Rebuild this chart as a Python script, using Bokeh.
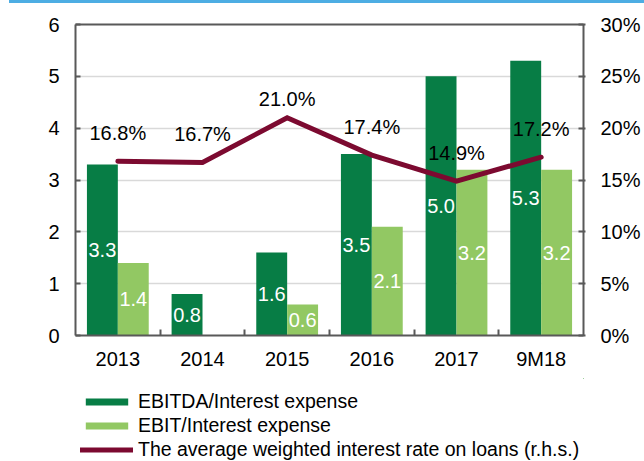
import numpy as np
from bokeh.plotting import figure
from bokeh.layouts import column
from bokeh.models import (ColumnDataSource, Range1d, LinearAxis, FixedTicker,
                          Legend, LegendItem, PrintfTickFormatter, Div)
from bokeh.transform import dodge
from bokeh.core.properties import value
from bokeh.embed import file_html
from bokeh.resources import INLINE

categories = ["2013", "2014", "2015", "2016", "2017", "9M18"]
ebitda_cov = [3.3, 0.8, 1.6, 3.5, 5.0, 5.3]
ebit_cov = [1.4, -0.05, 0.6, 2.1, 3.2, 3.2]
rate_pct = [16.8, 16.7, 21.0, 17.4, 14.9, 17.2]
rate_label_dy = [-28, -28, -19, -28, -28, -28]
left_ticks = [0, 1, 2, 3, 4, 5, 6]
right_ticks = [0, 5, 10, 15, 20, 25, 30]
legend_labels = ["EBITDA/Interest expense", "EBIT/Interest expense",
                 "The average weighted interest rate on loans (r.h.s.)"]

DARK = "#077D45"
LIGHT = "#92C863"
MAROON = "#7C0A30"
FRAME = "#595959"
FONT = "Liberation Sans"
FS = "20px"

n = len(categories)
xc = np.arange(n) + 0.5
BW = 0.365

src = ColumnDataSource(dict(
    x=xc, cat=categories, ebitda=ebitda_cov, ebit=ebit_cov,
    ebitda_mid=[v / 2 for v in ebitda_cov],
    ebit_mid=[v / 2 for v in ebit_cov],
    ebitda_lbl=[f"{v:.1f}" for v in ebitda_cov],
    ebit_lbl=[f"{v:.1f}" if v > 0 else "" for v in ebit_cov],
    rate=rate_pct,
    rate_lbl=[f"{v:.1f}%" for v in rate_pct],
    rate_dy=rate_label_dy,
))

p = figure(width=644, height=375, output_backend="svg", toolbar_location=None,
           title=None, x_range=Range1d(0, n), y_range=Range1d(0, 6),
           min_border_left=75, min_border_right=61, min_border_top=21,
           min_border_bottom=43, frame_width=508, frame_height=311)
p.extra_y_ranges = {"rate": Range1d(0, 30)}

p.outline_line_color = None
p.background_fill_color = "white"
p.border_fill_color = "white"
p.xgrid.visible = False
p.ygrid.grid_line_color = "#D9D9D9"
p.ygrid.grid_line_width = 1.5
p.ygrid.ticker = FixedTicker(ticks=left_ticks)

# bars
r1 = p.vbar(x=dodge("x", -BW / 2), top="ebitda", width=BW, source=src,
            fill_color=DARK, line_color=None)
r2 = p.vbar(x=dodge("x", BW / 2), top="ebit", width=BW, source=src,
            fill_color=LIGHT, line_color=None)

# bar labels
p.text(x=dodge("x", -BW / 2), y="ebitda_mid", text="ebitda_lbl", source=src,
       text_color="white", text_font=value(FONT), text_font_size=FS,
       text_align="center", text_baseline="middle")
p.text(x=dodge("x", BW / 2), y="ebit_mid", text="ebit_lbl", source=src,
       text_color="white", text_font=value(FONT), text_font_size=FS,
       text_align="center", text_baseline="middle")

# rate line
r3 = p.line(x="x", y="rate", source=src, y_range_name="rate",
            line_color=MAROON, line_width=5, line_join="miter", line_cap="round")
p.text(x="x", y="rate", text="rate_lbl", source=src, y_range_name="rate",
       y_offset="rate_dy", text_color="black", text_font=value(FONT),
       text_font_size=FS, text_align="center", text_baseline="middle")

# bottom axis
xa = p.below[0]
xa.ticker = FixedTicker(ticks=list(xc), minor_ticks=list(range(1, n)))
xa.major_label_overrides = {float(x): c for x, c in zip(xc, categories)}
xa.axis_line_color = FRAME
xa.axis_line_width = 2
xa.major_tick_line_color = None
xa.major_tick_in = 0
xa.major_tick_out = 0
xa.minor_tick_line_color = FRAME
xa.minor_tick_line_width = 2
xa.minor_tick_in = 6
xa.minor_tick_out = 0
xa.major_label_standoff = 12
xa.major_label_text_font = FONT
xa.major_label_text_font_size = FS
xa.major_label_text_color = "black"

# left axis
la = p.left[0]
la.ticker = FixedTicker(ticks=left_ticks)
la.axis_line_color = FRAME
la.axis_line_width = 2
la.major_tick_line_color = FRAME
la.major_tick_line_width = 2
la.major_tick_in = 5
la.major_tick_out = 0
la.minor_tick_line_color = None
la.major_label_standoff = 16
la.major_label_text_font = FONT
la.major_label_text_font_size = FS
la.major_label_text_color = "black"

# right axis
ra = LinearAxis(y_range_name="rate", ticker=FixedTicker(ticks=right_ticks),
                formatter=PrintfTickFormatter(format="%d%%"))
ra.axis_line_color = FRAME
ra.axis_line_width = 2
ra.major_tick_line_color = FRAME
ra.major_tick_line_width = 2
ra.major_tick_in = 5
ra.major_tick_out = 2
ra.minor_tick_line_color = None
ra.major_label_standoff = 15
ra.major_label_text_font = FONT
ra.major_label_text_font_size = FS
ra.major_label_text_color = "black"
p.add_layout(ra, "right")

# top frame line
ta = LinearAxis(ticker=FixedTicker(ticks=[]))
ta.axis_line_color = FRAME
ta.axis_line_width = 2
ta.major_tick_line_color = None
ta.minor_tick_line_color = None
ta.major_tick_in = 0
ta.major_tick_out = 0
ta.minor_tick_in = 0
ta.minor_tick_out = 0
ta.major_label_text_font_size = "0px"
p.add_layout(ta, "above")

# legend panel (separate canvas below the chart; its renderers sit outside its range)
lf = figure(width=644, height=83, output_backend="svg", toolbar_location=None,
            title=None, x_axis_location=None, y_axis_location=None,
            x_range=Range1d(-20, -19), y_range=Range1d(-20, -19),
            min_border=0, min_border_left=0, min_border_right=0,
            min_border_top=0, min_border_bottom=0)
lf.grid.visible = False
lf.outline_line_color = None
lf.border_fill_color = "white"
lf.background_fill_color = "white"
g1 = lf.vbar(x="x", top="ebitda", width=BW, source=src, fill_color=DARK, line_color=None)
g2 = lf.vbar(x="x", top="ebit", width=BW, source=src, fill_color=LIGHT, line_color=None)
g3 = lf.line(x="x", y="rate", source=src, line_color=MAROON, line_width=5, line_cap="round")

legend = Legend(items=[
    LegendItem(label=legend_labels[0], renderers=[g1]),
    LegendItem(label=legend_labels[1], renderers=[g2]),
    LegendItem(label=legend_labels[2], renderers=[g3]),
], location=(5, 0), orientation="vertical")
legend.glyph_width = 53
legend.glyph_height = 9
legend.label_height = 24
legend.label_standoff = 5
legend.spacing = 0
legend.padding = 0
legend.margin = 0
legend.border_line_color = None
legend.background_fill_alpha = 0
legend.label_text_font = FONT
legend.label_text_font_size = "19.5px"
legend.label_text_color = "black"
lf.add_layout(legend, "center")

bar = Div(width=635, height=3, margin=(0, 0, 0, 9),
          styles={"background-color": "#4DADE3"})
layout = column(bar, p, lf, spacing=0)

open("out.html", "w").write(file_html(layout, INLINE))
